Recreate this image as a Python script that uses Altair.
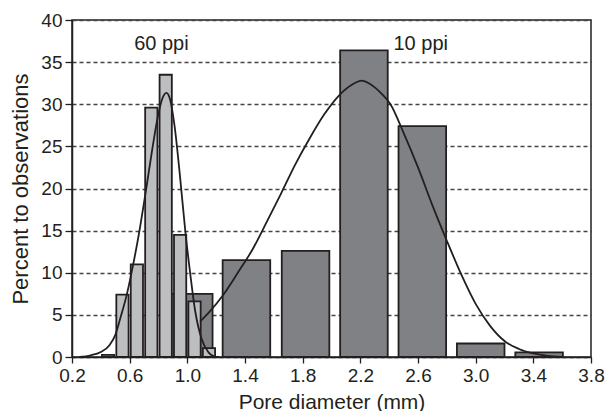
import altair as alt
import pandas as pd

# ---- data ----
# 10 ppi histogram (bin centres in mm, percent of observations)
ppi10_center = [1.01, 1.41, 1.82, 2.225, 2.63, 3.035, 3.44]
ppi10_pct = [7.5, 11.5, 12.6, 36.4, 27.4, 1.6, 0.55]
ppi10_binwidth = 0.33

# 60 ppi histogram
ppi60_center = [0.45, 0.55, 0.65, 0.75, 0.85, 0.95, 1.05, 1.15]
ppi60_pct = [0.25, 7.4, 11.0, 29.6, 33.5, 14.5, 6.6, 1.05]
ppi60_binwidth = 0.085

# fitted curves
curve60_x = [0.25, 0.33, 0.40, 0.46, 0.50, 0.535, 0.58, 0.62, 0.669, 0.715, 0.759,
             0.795, 0.825, 0.855, 0.88, 0.91, 0.95, 0.985, 1.02, 1.055, 1.10, 1.145, 1.19, 1.22]
curve60_y = [0.0, 0.2, 0.6, 1.4, 2.6, 4.6, 7.4, 10.6, 15.1, 20.0, 24.9,
             28.5, 30.6, 31.35, 30.6, 27.6, 21.3, 15.1, 9.9, 5.4, 2.1, 0.6, 0.05, 0.0]

curve10_x = [1.088, 1.15, 1.25, 1.35, 1.45, 1.55, 1.65, 1.75, 1.85, 1.95, 2.05, 2.15, 2.21,
             2.30, 2.35, 2.409, 2.5, 2.6, 2.7, 2.8, 2.9, 3.0, 3.1, 3.2, 3.3, 3.4, 3.5, 3.605]
curve10_y = [4.2, 5.3, 7.4, 10.0, 12.7, 16.0, 19.4, 22.9, 26.0, 28.8, 31.0, 32.4, 32.8,
             32.0, 31.2, 30.0, 26.6, 22.5, 18.0, 13.8, 9.8, 6.3, 3.7, 1.9, 0.95, 0.42, 0.13, 0.0]

labels = ["60 ppi", "10 ppi"]

x_ticks = [round(0.2 + 0.2 * i, 1) for i in range(19)]
y_ticks = [0, 5, 10, 15, 20, 25, 30, 35, 40]

# ---- tables ----
df10 = pd.DataFrame({
    "lo": [c - ppi10_binwidth / 2 for c in ppi10_center],
    "hi": [c + ppi10_binwidth / 2 for c in ppi10_center],
    "pct": ppi10_pct,
})
df10["zero"] = 0
df60 = pd.DataFrame({
    "lo": [c - ppi60_binwidth / 2 for c in ppi60_center],
    "hi": [c + ppi60_binwidth / 2 for c in ppi60_center],
    "pct": ppi60_pct,
})
df60["zero"] = 0
dc60 = pd.DataFrame({"x": curve60_x, "y": curve60_y, "o": range(len(curve60_x))})
dc10 = pd.DataFrame({"x": curve10_x, "y": curve10_y, "o": range(len(curve10_x))})

FONT = "Liberation Sans"

xs = alt.Scale(domain=[0.2, 3.8], nice=False, zero=False)
ys = alt.Scale(domain=[0, 40], nice=False)

x_axis = alt.Axis(
    values=x_ticks,
    labelExpr="(round(datum.value*10) % 4 == 2) ? format(datum.value, '.1f') : ''",
    title="Pore diameter (mm)",
    grid=False,
    tickSize=6,
    labelPadding=3,
    labelFontSize=19,
    titleFontSize=21,
    titlePadding=6,
    labelFlush=False,
)
y_axis = alt.Axis(
    values=y_ticks,
    title="Percent to observations",
    grid=True,
    gridDash=[4, 3],
    gridColor="#444444",
    gridWidth=1.3,
    tickSize=7,
    labelPadding=3,
    labelFontSize=19,
    titleFontSize=22,
    titlePadding=8,
)


def X(f):
    return alt.X(f, type="quantitative", scale=xs, axis=x_axis)


def Y(f):
    return alt.Y(f, type="quantitative", scale=ys, axis=y_axis)


bars10 = alt.Chart(df10).mark_rect(
    color="#808184", stroke="#231f20", strokeWidth=1.8
).encode(x=X("lo"), x2="hi", y=Y("pct"), y2="zero")

bars60 = alt.Chart(df60).mark_rect(
    color="#bcbec0", stroke="#231f20", strokeWidth=1.8
).encode(x=X("lo"), x2="hi", y=Y("pct"), y2="zero")

line60 = alt.Chart(dc60).mark_line(
    color="#231f20", strokeWidth=1.8, interpolate="monotone"
).encode(x=X("x"), y=Y("y"), order="o:Q")

line10 = alt.Chart(dc10).mark_line(
    color="#231f20", strokeWidth=1.8, interpolate="monotone"
).encode(x=X("x"), y=Y("y"), order="o:Q")

txt60 = alt.Chart(pd.DataFrame({"t": [labels[0]]})).mark_text(
    font=FONT, fontSize=20, color="#231f20", align="center", baseline="middle"
).encode(x=alt.datum(0.82), y=alt.datum(37.2), text="t:N")

txt10 = alt.Chart(pd.DataFrame({"t": [labels[1]]})).mark_text(
    font=FONT, fontSize=20, color="#231f20", align="left", baseline="middle"
).encode(x=alt.datum(2.43), y=alt.datum(37.2), text="t:N")

chart = alt.layer(bars10, bars60, line60, line10, txt60, txt10).properties(
    width=519,
    height=337,
    autosize=alt.AutoSizeParams(type="none"),
    padding={"left": 64, "top": 12, "right": 14, "bottom": 54},
    background="white",
).configure_view(
    stroke="#231f20", strokeWidth=1.5
).configure_axis(
    domainColor="#231f20", domainWidth=1.5, tickColor="#231f20", tickWidth=1.3,
    labelColor="#231f20", titleColor="#231f20", labelFont=FONT, titleFont=FONT,
    titleFontWeight="normal",
)

chart.save("out.html", embed_options={"renderer": "svg", "actions": False})
